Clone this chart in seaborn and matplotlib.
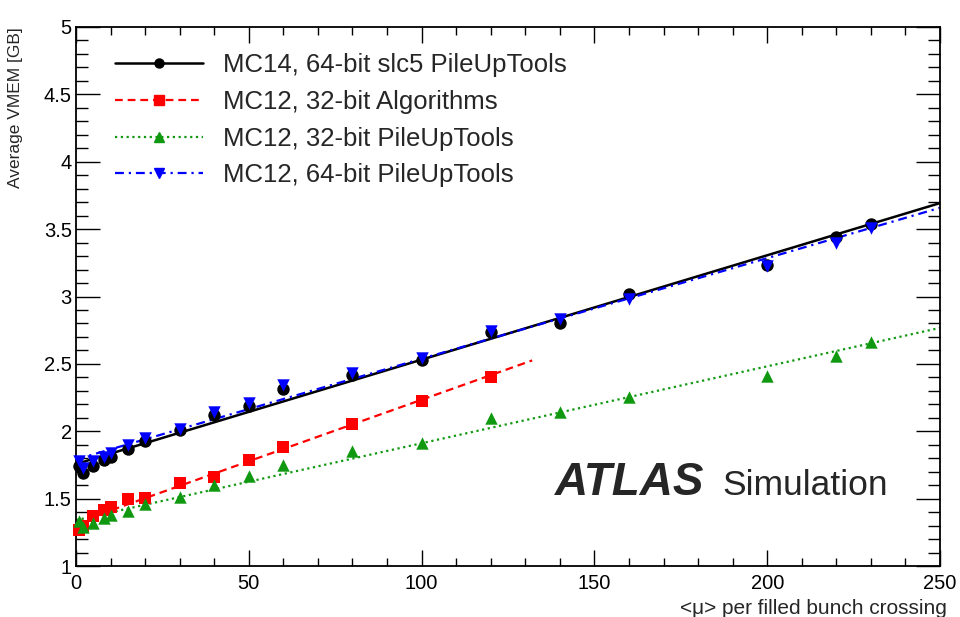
import matplotlib
matplotlib.use("Agg")
import matplotlib.pyplot as plt
import numpy as np
import pandas as pd
import seaborn as sns
from matplotlib.lines import Line2D
from matplotlib.ticker import MultipleLocator

# pile-up values <mu>
mu_all = [1, 2, 5, 8, 10, 15, 20, 30, 40, 50, 60, 80, 100, 120, 140, 160, 200, 220, 230]
mu_alg = [1, 2, 5, 8, 10, 15, 20, 30, 40, 50, 60, 80, 100, 120]

# average VMEM [GB]
vmem_mc14_64 = [1.74, 1.69, 1.74, 1.785, 1.81, 1.87, 1.93, 2.01, 2.12, 2.19, 2.31,
                2.42, 2.53, 2.74, 2.805, 3.02, 3.235, 3.44, 3.54]
vmem_mc12_32alg = [1.27, 1.30, 1.37, 1.415, 1.44, 1.50, 1.505, 1.615, 1.66, 1.79, 1.88,
                   2.055, 2.225, 2.405]
vmem_mc12_32put = [1.335, 1.29, 1.32, 1.355, 1.38, 1.41, 1.46, 1.515, 1.60, 1.67, 1.75,
                   1.855, 1.91, 2.10, 2.14, 2.255, 2.41, 2.56, 2.66]
vmem_mc12_64put = [1.78, 1.73, 1.78, 1.81, 1.84, 1.90, 1.95, 2.02, 2.14, 2.21, 2.34,
                   2.43, 2.54, 2.745, 2.83, 2.98, 3.23, 3.40, 3.51]

labels = ["MC14, 64-bit slc5 PileUpTools", "MC12, 32-bit Algorithms",
          "MC12, 32-bit PileUpTools", "MC12, 64-bit PileUpTools"]
fit_max = [250, 132, 250, 250]

series = [
    (mu_all, vmem_mc14_64, "black", "o", "-", 1.8, None),
    (mu_alg, vmem_mc12_32alg, "#ff0000", "s", "--", 1.6, (3.5, 2.2)),
    (mu_all, vmem_mc12_32put, "#109910", "^", ":", 1.6, (1.0, 1.6)),
    (mu_all, vmem_mc12_64put, "#0000ff", "v", "-.", 1.6, (4.0, 2.2, 1.0, 2.2)),
]

sns.set_style("ticks")
plt.rcParams["font.family"] = ["Liberation Sans", "DejaVu Sans"]

fig = plt.figure(figsize=(9.6, 6.17), dpi=100)
ax = fig.add_axes([76 / 960, 51 / 617, 864 / 960, 539 / 617])

handles = []
for (xs, ys, color, marker, ls, lw, dashes), label, xmax in zip(series, labels, fit_max):
    slope, icpt = np.polyfit(xs, ys, 1)
    xfit = np.array([0, xmax])
    line, = ax.plot(xfit, icpt + slope * xfit, color=color, lw=lw, ls=ls, zorder=2)
    if dashes is not None:
        line.set_dashes(dashes)
    df = pd.DataFrame({"mu": xs, "vmem": ys})
    sns.scatterplot(data=df, x="mu", y="vmem", marker=marker, color=color, s=80,
                    linewidth=0, ax=ax, zorder=3, clip_on=False)
    h = Line2D([], [], color=color, lw=lw, ls=ls, marker=marker, markersize=6.5)
    if dashes is not None:
        h.set_dashes(dashes)
    handles.append(h)

ax.set_xlim(0, 250)
ax.set_ylim(1, 5)
ax.xaxis.set_major_locator(MultipleLocator(50))
ax.xaxis.set_minor_locator(MultipleLocator(10))
ax.yaxis.set_major_locator(MultipleLocator(0.5))
ax.yaxis.set_minor_locator(MultipleLocator(0.1))
ax.yaxis.set_major_formatter(plt.FuncFormatter(lambda v, p: f"{v:g}"))

ax.tick_params(which="both", direction="in", top=True, right=True, width=1.0,
               labelsize=14.5, colors="black")
ax.tick_params(axis="x", which="major", length=11.5, pad=6)
ax.tick_params(axis="x", which="minor", length=5.8)
ax.tick_params(axis="y", which="major", length=17.5, pad=3)
ax.tick_params(axis="y", which="minor", length=8.7)
for sp in ax.spines.values():
    sp.set_linewidth(1.3)
    sp.set_color("black")

ax.set_xlabel("<μ> per filled bunch crossing", fontsize=15, loc="right")
ax.xaxis.set_label_coords(1.008, -0.062)
ax.set_ylabel("Average VMEM [GB]", fontsize=12.5, loc="top")
ax.yaxis.set_label_coords(-0.061, 1.0)

ax.legend(handles, labels, loc="upper left", bbox_to_anchor=(0.045, 0.952),
          frameon=False, fontsize=18.5, handlelength=3.42, handletextpad=0.78,
          labelspacing=0.5, borderpad=0, borderaxespad=0)

ax.text(0.554, 0.132, "ATLAS", transform=ax.transAxes, fontsize=33,
        fontweight="bold", fontstyle="italic", ha="left", va="baseline")
ax.text(0.748, 0.132, "Simulation", transform=ax.transAxes, fontsize=25.5,
        ha="left", va="baseline")

fig.savefig("out.png", dpi=100)
